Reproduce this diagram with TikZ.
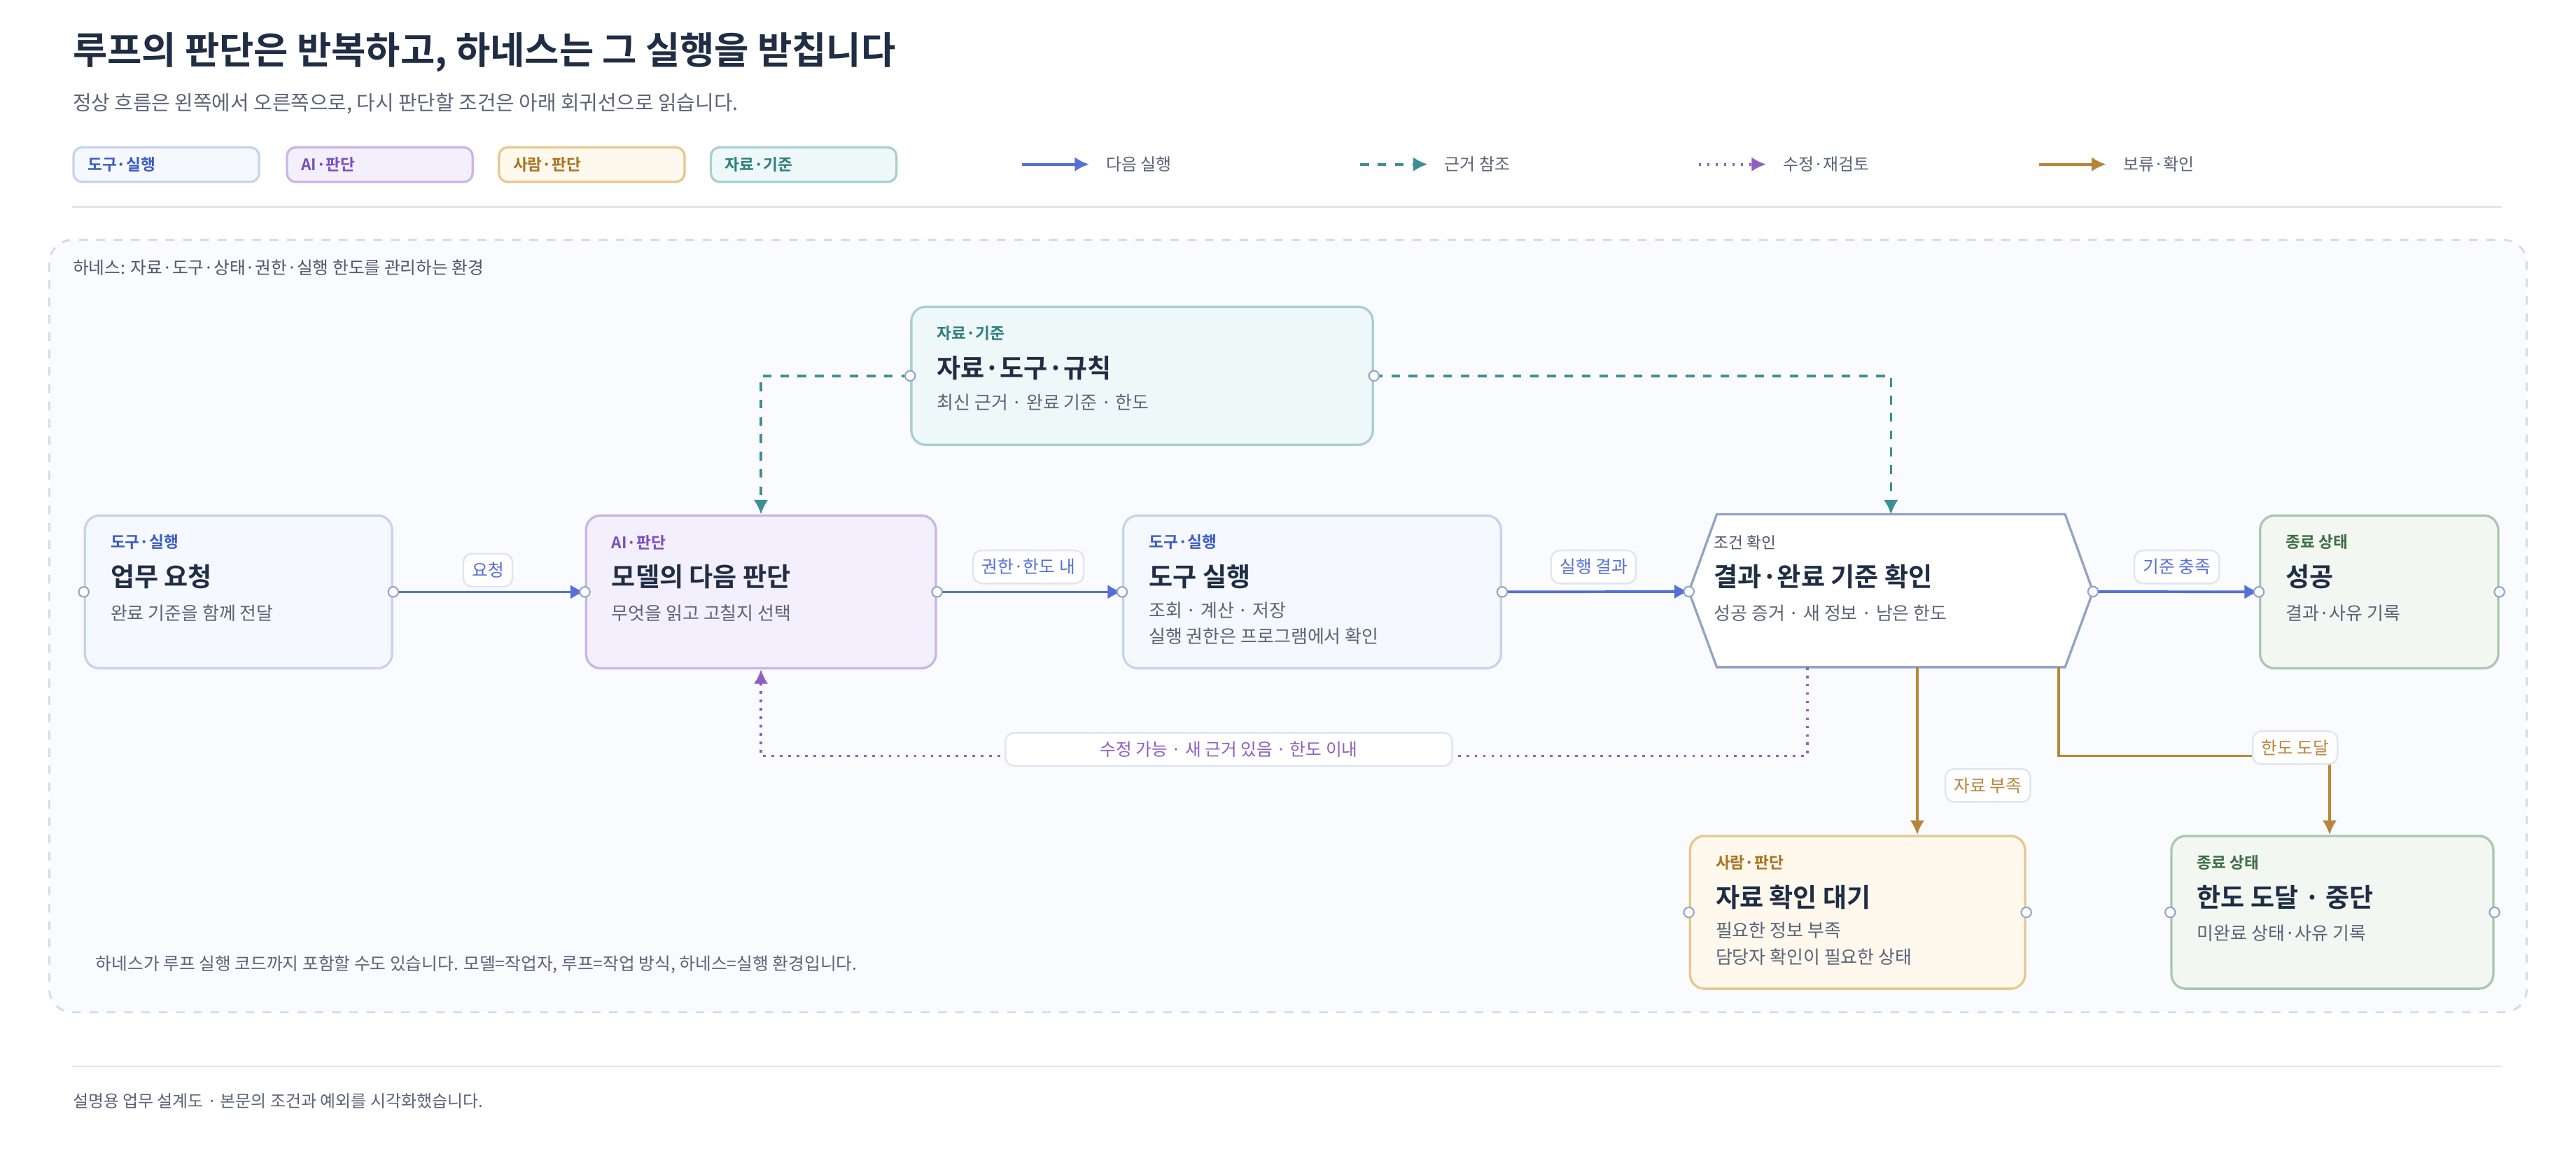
\documentclass[tikz,border=0pt]{standalone}
\usepackage{fontspec}
\setmainfont{Noto Sans CJK KR}[BoldFont={Noto Sans CJK KR Bold}]
\usetikzlibrary{positioning,calc,arrows.meta}

\definecolor{ink}{HTML}{1F2D45}
\definecolor{muted}{HTML}{5A6478}
\definecolor{rule}{HTML}{E1E5EE}
\definecolor{bluefill}{HTML}{F5F8FE}\definecolor{blueline}{HTML}{C5D3EE}\definecolor{bluetext}{HTML}{3B5BC4}
\definecolor{purpfill}{HTML}{F4EFFC}\definecolor{purpline}{HTML}{C9B5E8}\definecolor{purptext}{HTML}{7A4FC0}
\definecolor{orgfill}{HTML}{FFF8EC}\definecolor{orgline}{HTML}{E6C88E}\definecolor{orgtext}{HTML}{A8741F}
\definecolor{tealfill}{HTML}{EFF8F8}\definecolor{tealline}{HTML}{A8D0CF}\definecolor{tealtext}{HTML}{2F7F7E}
\definecolor{grnfill}{HTML}{F2F7F2}\definecolor{grnline}{HTML}{A9C8AE}\definecolor{grntext}{HTML}{3E6E45}
\definecolor{hexline}{HTML}{93A3C6}
\definecolor{flowblue}{HTML}{5570D8}
\definecolor{flowteal}{HTML}{3E8F92}
\definecolor{flowpurp}{HTML}{9060C0}
\definecolor{flowbrown}{HTML}{B8863A}

\tikzset{
  box/.style={draw, line width=0.8pt, rounded corners=5pt, anchor=north west, inner sep=0pt},
  tag/.style={anchor=west, inner sep=0pt, font=\fontsize{5.5}{6}\selectfont\bfseries},
  head/.style={anchor=west, inner sep=0pt, text=ink, font=\fontsize{9}{10}\selectfont\bfseries},
  sub/.style={anchor=west, inner sep=0pt, text=muted, align=left, font=\fontsize{6.3}{9}\selectfont},
  chip/.style={draw=rule, fill=white, line width=0.6pt, rounded corners=3pt, inner sep=3pt, font=\fontsize{6}{7}\selectfont},
  legend/.style={draw, line width=0.8pt, rounded corners=3pt, anchor=north west, inner sep=0pt,
    minimum width=2.26cm, minimum height=0.42cm},
  port/.style={draw, fill=white, line width=0.5pt, circle, inner sep=0pt, minimum size=3.5pt},
  next/.style={draw=flowblue, line width=0.9pt, -{Latex[length=5pt,width=5pt]}},
  ref/.style={draw=flowteal, line width=0.9pt, dashed, -{Latex[length=5pt,width=5pt]}},
  redo/.style={draw=flowpurp, line width=0.9pt, dotted, -{Latex[length=5pt,width=5pt]}},
  hold/.style={draw=flowbrown, line width=0.9pt, -{Latex[length=5pt,width=5pt]}}
}

\begin{document}
\begin{tikzpicture}[x=0.02cm, y=-0.02cm]

    % Page frame
    \useasboundingbox (0,0) rectangle (1568,699);
    \fill[white] (0,0) rectangle (1568,699);

    % Title and subtitle
    \node[anchor=west, inner sep=0pt, text=ink, font=\fontsize{13}{14}\selectfont\bfseries] (title) at (44,32)
      {루프의 판단은 반복하고, 하네스는 그 실행을 받칩니다};
    \node[anchor=west, inner sep=0pt, text=muted, font=\fontsize{7}{8}\selectfont] (subtitle) at (44,63)
      {정상 흐름은 왼쪽에서 오른쪽으로, 다시 판단할 조건은 아래 회귀선으로 읽습니다.};

    % Legend chips
    \node[legend, draw=blueline, fill=bluefill] (lg1) at (44,89) {};
    \node[tag, text=bluetext] at ($(lg1.west)+(9,0)$) {도구·실행};
    \node[legend, draw=purpline, fill=purpfill] (lg2) at (174,89) {};
    \node[tag, text=purptext] at ($(lg2.west)+(9,0)$) {AI·판단};
    \node[legend, draw=orgline, fill=orgfill] (lg3) at (303,89) {};
    \node[tag, text=orgtext] at ($(lg3.west)+(9,0)$) {사람·판단};
    \node[legend, draw=tealline, fill=tealfill] (lg4) at (432,89) {};
    \node[tag, text=tealtext] at ($(lg4.west)+(9,0)$) {자료·기준};

    % Legend lines
    \coordinate (l1a) at (622,100); \coordinate (l1b) at (663,100);
    \draw[next] (l1a) -- (l1b);
    \node[sub, font=\fontsize{5.8}{7}\selectfont] at (673,100) {다음 실행};
    \coordinate (l2a) at (828,100); \coordinate (l2b) at (869,100);
    \draw[ref] (l2a) -- (l2b);
    \node[sub, font=\fontsize{5.8}{7}\selectfont] at (879,100) {근거 참조};
    \coordinate (l3a) at (1034,100); \coordinate (l3b) at (1075,100);
    \draw[redo] (l3a) -- (l3b);
    \node[sub, font=\fontsize{5.8}{7}\selectfont] at (1085,100) {수정·재검토};
    \coordinate (l4a) at (1241,100); \coordinate (l4b) at (1282,100);
    \draw[hold] (l4a) -- (l4b);
    \node[sub, font=\fontsize{5.8}{7}\selectfont] at (1292,100) {보류·확인};

    % Separators
    \draw[rule, line width=0.6pt] (44,126) -- (1523,126);
    \draw[rule, line width=0.6pt] (44,649) -- (1523,649);

    % Harness frame
    \draw[draw=blueline!80, fill=bluefill!50, dashed, line width=0.7pt, rounded corners=8pt]
      (30,146) rectangle (1538,616);
    \node[sub, text=ink!80, font=\fontsize{6}{7}\selectfont] (harness) at (44,163)
      {하네스: 자료·도구·상태·권한·실행 한도를 관리하는 환경};

    % Data node
    \node[box, draw=tealline, fill=tealfill, minimum width=5.62cm, minimum height=1.68cm] (data) at (554,186) {};
    \node[tag, text=tealtext] at ($(data.north west)+(16,17)$) {자료·기준};
    \node[head] at ($(data.north west)+(16,38)$) {자료·도구·규칙};
    \node[sub] at ($(data.north west)+(16,59)$) {최신 근거 · 완료 기준 · 한도};

    % Request node
    \node[box, draw=blueline, fill=bluefill, minimum width=3.74cm, minimum height=1.86cm] (req) at (51,313) {};
    \node[tag, text=bluetext] at ($(req.north west)+(16,17)$) {도구·실행};
    \node[head] at ($(req.north west)+(16,38)$) {업무 요청};
    \node[sub] at ($(req.north west)+(16,60)$) {완료 기준을 함께 전달};

    % Model node
    \node[box, draw=purpline, fill=purpfill, minimum width=4.26cm, minimum height=1.86cm] (model) at (356,313) {};
    \node[tag, text=purptext] at ($(model.north west)+(16,17)$) {AI·판단};
    \node[head] at ($(model.north west)+(16,38)$) {모델의 다음 판단};
    \node[sub] at ($(model.north west)+(16,60)$) {무엇을 읽고 고칠지 선택};

    % Tool node
    \node[box, draw=blueline, fill=bluefill, minimum width=4.6cm, minimum height=1.86cm] (tool) at (683,313) {};
    \node[tag, text=bluetext] at ($(tool.north west)+(16,17)$) {도구·실행};
    \node[head] at ($(tool.north west)+(16,38)$) {도구 실행};
    \node[sub, anchor=north west] at ($(tool.north west)+(16,53)$) {조회 · 계산 · 저장\\실행 권한은 프로그램에서 확인};

    % Check hexagon
    \coordinate (chk-w) at (1028,360);
    \coordinate (chk-e) at (1274,360);
    \draw[draw=hexline, fill=white, line width=0.8pt]
      (chk-w) -- (1045,313) -- (1257,313) -- (chk-e) -- (1257,406) -- (1045,406) -- cycle;
    \node[tag, text=ink!80, font=\fontsize{5.5}{6}\selectfont] at (1043,330) {조건 확인};
    \node[head] at (1043,351) {결과·완료 기준 확인};
    \node[sub] at (1043,373) {성공 증거 · 새 정보 · 남은 한도};
    \coordinate (chk-n) at (1151,313);
    \coordinate (chk-s1) at (1100,406);
    \coordinate (chk-s2) at (1167,406);
    \coordinate (chk-s3) at (1253,406);

    % Success node
    \node[box, draw=grnline, fill=grnfill, minimum width=2.9cm, minimum height=1.86cm] (done) at (1375,313) {};
    \node[tag, text=grntext] at ($(done.north west)+(16,17)$) {종료 상태};
    \node[head] at ($(done.north west)+(16,38)$) {성공};
    \node[sub] at ($(done.north west)+(16,60)$) {결과·사유 기록};

    % Wait node
    \node[box, draw=orgline, fill=orgfill, minimum width=4.08cm, minimum height=1.86cm] (wait) at (1028,508) {};
    \node[tag, text=orgtext] at ($(wait.north west)+(16,17)$) {사람·판단};
    \node[head] at ($(wait.north west)+(16,38)$) {자료 확인 대기};
    \node[sub, anchor=north west] at ($(wait.north west)+(16,53)$) {필요한 정보 부족\\담당자 확인이 필요한 상태};

    % Stop node
    \node[box, draw=grnline, fill=grnfill, minimum width=3.92cm, minimum height=1.86cm] (stop) at (1321,508) {};
    \node[tag, text=grntext] at ($(stop.north west)+(16,17)$) {종료 상태};
    \node[head] at ($(stop.north west)+(16,38)$) {한도 도달 · 중단};
    \node[sub] at ($(stop.north west)+(16,60)$) {미완료 상태·사유 기록};

    % Main flow
    \draw[next] (req.east) -- (model.west);
    \draw[next] (model.east) -- (tool.west);
    \draw[next] (tool.east) -- (chk-w);
    \draw[next] (chk-e) -- (done.west);

    % Evidence references
    \draw[ref] (data.west) -| (model.north);
    \draw[ref] (data.east) -| (chk-n);

    % Loop back
    \draw[redo] (chk-s1) |- (748,460) -| (model.south);

    % Hold branches
    \draw[hold] (chk-s2) -- (chk-s2 |- wait.north);
    \draw[hold] (chk-s3) |- (1418,460) -- (1418,460 |- stop.north);

    % Flow labels
    \node[chip, text=flowblue] at (297,347) {요청};
    \node[chip, text=flowblue] at (626,345) {권한·한도 내};
    \node[chip, text=flowblue] at (970,345) {실행 결과};
    \node[chip, text=flowblue] at (1325,345) {기준 충족};
    \node[chip, text=flowpurp, minimum width=5.44cm] at (748,456) {수정 가능 · 새 근거 있음 · 한도 이내};
    \node[chip, text=flowbrown] at (1210,478) {자료 부족};
    \node[chip, text=flowbrown] at (1397,455) {한도 도달};

    % Ports
    \foreach \n in {req,model,tool,done,wait,stop,data}{
      \node[port, draw=hexline] at (\n.west) {};
      \node[port, draw=hexline] at (\n.east) {};
    }
    \node[port, draw=hexline] at (chk-w) {};
    \node[port, draw=hexline] at (chk-e) {};

    % Notes
    \node[sub, font=\fontsize{6}{7}\selectfont] (note) at (58,587)
      {하네스가 루프 실행 코드까지 포함할 수도 있습니다. 모델=작업자, 루프=작업 방식, 하네스=실행 환경입니다.};
    \node[sub, font=\fontsize{5.8}{7}\selectfont] (footer) at (44,670)
      {설명용 업무 설계도 · 본문의 조건과 예외를 시각화했습니다.};

\end{tikzpicture}
\end{document}
